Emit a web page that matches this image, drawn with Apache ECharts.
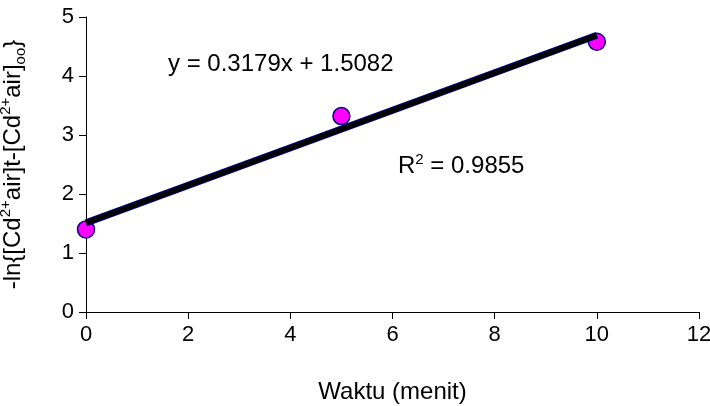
<!DOCTYPE html>
<html><head><meta charset="utf-8">
<script src="https://cdn.jsdelivr.net/npm/echarts@6/dist/echarts.min.js"></script>
<style>html,body{margin:0;padding:0;background:#fff}#c{width:710px;height:406px}</style>
</head><body><div id="c"></div>
<script>
// data
const timeX = [0, 5, 10];
const lnValues = [1.40, 3.32, 4.58];
const trendX = [0, 10];
const trendY = [1.51, 4.69];
const xTickMin = 0, xTickMax = 12, xTickStep = 2;
const yTickMin = 0, yTickMax = 5, yTickStep = 1;
const xAxisTitle = 'Waktu (menit)';
const yAxisTitle = '-ln{[Cd{s|2+}air]t-[Cd{s|2+}air]{b|oo}}';
const equationText = 'y = 0.3179x + 1.5082';
const r2Value = '0.9855';

const FONT = '"Liberation Sans", Arial, sans-serif';
const chart = echarts.init(document.getElementById('c'), null, {renderer: 'canvas'});
const pts = timeX.map((x, i) => [x, lnValues[i]]);
const trend = trendX.map((x, i) => [x, trendY[i]]);

chart.setOption({
  backgroundColor: '#ffffff',
  animation: false,
  grid: {left: 86, right: 11, top: 17, bottom: 94, containLabel: false, outerBoundsMode: 'none'},
  xAxis: {
    type: 'value', min: xTickMin, max: xTickMax, interval: xTickStep,
    name: xAxisTitle, nameLocation: 'middle', nameGap: 68,
    nameTextStyle: {fontFamily: FONT, fontSize: 24, color: '#000'},
    axisLine: {onZero: false, lineStyle: {color: '#000', width: 1}},
    axisTick: {show: true, length: 7, inside: false, lineStyle: {color: '#000'}},
    axisLabel: {fontFamily: FONT, fontSize: 22, color: '#000', margin: 12},
    splitLine: {show: false}
  },
  yAxis: {
    type: 'value', min: yTickMin, max: yTickMax, interval: yTickStep,
    name: yAxisTitle, nameLocation: 'middle', nameRotate: 90, nameGap: 58,
    nameTextStyle: {
      fontFamily: FONT, fontSize: 24, color: '#000', lineHeight: 30,
      rich: {
        s: {fontFamily: FONT, fontSize: 15, lineHeight: 15, verticalAlign: 'top', color: '#000'},
        b: {fontFamily: FONT, fontSize: 15, lineHeight: 15, verticalAlign: 'bottom', color: '#000'}
      }
    },
    axisLine: {show: true, lineStyle: {color: '#000', width: 1}},
    axisTick: {show: true, length: 7, inside: false, lineStyle: {color: '#000'}},
    axisLabel: {fontFamily: FONT, fontSize: 22, color: '#000', margin: 12},
    splitLine: {show: false}
  },
  series: [
    {
      type: 'scatter', data: pts, symbol: 'circle', symbolSize: 17, z: 2,
      itemStyle: {color: '#ff00ff', borderColor: '#000080', borderWidth: 1.5, opacity: 1}
    },
    {
      type: 'line', data: trend, symbol: 'none', z: 3,
      lineStyle: {color: '#000080', width: 7}
    },
    {
      type: 'line', data: trend, symbol: 'none', z: 4,
      lineStyle: {color: '#000000', width: 5}
    }
  ],
  graphic: [
    {
      type: 'text', left: 168, top: 52, z: 10,
      style: {text: equationText, font: '24px ' + FONT, fill: '#000'}
    },
    {
      type: 'text', left: 398, top: 152, z: 10,
      style: {
        text: '{n|R}{s|2}{n| = ' + r2Value + '}',
        rich: {
          n: {fontFamily: FONT, fontSize: 24, lineHeight: 28, fill: '#000'},
          s: {fontFamily: FONT, fontSize: 15, lineHeight: 15, verticalAlign: 'top', fill: '#000'}
        }
      }
    }
  ]
});
</script>
</body></html>
